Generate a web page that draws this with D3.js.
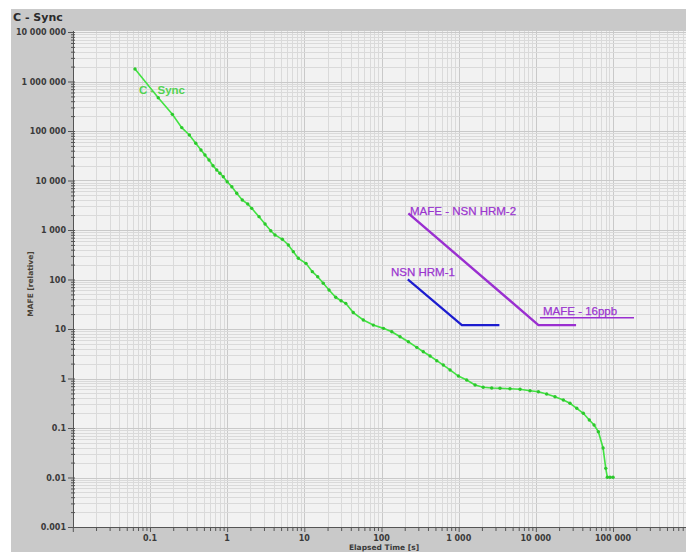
<!DOCTYPE html>
<html>
<head>
<meta charset="utf-8">
<script src="https://cdn.jsdelivr.net/npm/d3@7"></script>
<style>
  body { margin: 0; background: #fff; }
  svg { display: block; }
</style>
</head>
<body>
<script>
// C - Sync measured MAFE, elapsed time in seconds
const syncTime = [0.064, 0.128, 0.195, 0.258, 0.324, 0.392, 0.458, 0.516, 0.582, 0.656,
  0.733, 0.807, 0.891, 1.0, 1.15, 1.33, 1.57, 1.85, 2.08, 2.59,
  3.10, 3.67, 4.17, 5.19, 6.21, 7.20, 8.36, 10.5, 12.7, 14.9,
  17.6, 20.9, 25.5, 29.9, 34.4, 43.1, 58.1, 78.3, 106, 136,
  174, 223, 286, 348, 426, 520, 632, 773, 991, 1270,
  1630, 2080, 2680, 3430, 4620, 6240, 8400, 10800, 13800, 17700,
  22700, 27700, 33900, 41200, 49300, 56800, 64600, 74300, 80500, 84400,
  91400, 100000];
const syncMafe = [1790000, 471000, 217000, 117000, 83000, 56500, 41300, 32700, 25900, 19900,
  16300, 14000, 11900, 9460, 7500, 5510, 4040, 3350, 2740, 1860,
  1320, 968, 793, 649, 498, 365, 268, 212, 144, 114,
  83.8, 61.4, 43.7, 37.3, 33.0, 21.5, 15.2, 12.0, 10.3, 8.81,
  6.98, 5.53, 4.26, 3.47, 2.85, 2.29, 1.87, 1.49, 1.12, 0.933,
  0.740, 0.664, 0.643, 0.634, 0.622, 0.605, 0.567, 0.541, 0.486, 0.429,
  0.368, 0.316, 0.250, 0.198, 0.145, 0.115, 0.0842, 0.0394, 0.0153, 0.0101,
  0.0101, 0.0101];

// masks
const hrm1Time = [219, 1100, 3370];
const hrm1Mafe = [101, 12, 12];
const hrm2Time = [223, 10800, 33200];
const hrm2Mafe = [2170, 12, 12];
const ppbTime = [11300, 187000];
const ppbMafe = [16.9, 16.9];

const xTickLabels = [0.1, 1, 10, 100, 1000, 10000, 100000];
const yTickLabels = [0.001, 0.01, 0.1, 1, 10, 100, 1000, 10000, 100000, 1000000, 10000000];

const W = 686, H = 552;
const plot = { left: 73, top: 31, right: 686, bottom: 527 };

const x = d3.scaleLog().domain([0.01, 1e6]).range([72.8, 690.2]);
const y = d3.scaleLog().domain([0.001, 1e7]).range([527, 32]);

const fmt = v => v >= 1 ? d3.format(",")(v).replace(/,/g, " ") : String(v);
const isMajor = v => Math.abs(Math.log10(v) - Math.round(Math.log10(v))) < 1e-9;

const svg = d3.select("body").append("svg")
  .attr("width", W)
  .attr("height", H);

// grey frame
svg.append("rect")
  .attr("x", 11).attr("y", 9)
  .attr("width", W - 11).attr("height", H - 9)
  .attr("fill", "#c9c9c9");

svg.append("text")
  .attr("x", 13).attr("y", 21)
  .attr("font-family", "'DejaVu Sans', sans-serif")
  .attr("font-weight", "bold")
  .attr("font-size", "11px")
  .attr("fill", "#2b2b2b")
  .text("C - Sync");

svg.append("clipPath").attr("id", "clip")
  .append("rect")
  .attr("x", plot.left).attr("y", plot.top)
  .attr("width", plot.right - plot.left).attr("height", plot.bottom - plot.top);

svg.append("rect")
  .attr("x", plot.left).attr("y", plot.top)
  .attr("width", plot.right - plot.left).attr("height", plot.bottom - plot.top)
  .attr("fill", "#f2f2f2");

const grid = svg.append("g").attr("clip-path", "url(#clip)");
const xGrid = x.ticks(20), yGrid = y.ticks(20);

grid.selectAll(".vg")
  .data(xGrid)
  .join("line")
  .attr("class", "vg")
  .attr("x1", d => Math.round(x(d)) + 0.5).attr("x2", d => Math.round(x(d)) + 0.5)
  .attr("y1", plot.top).attr("y2", plot.bottom)
  .attr("stroke", d => isMajor(d) ? "#c9c9c9" : "#dadada")
  .attr("stroke-width", 1);

grid.selectAll(".hg")
  .data(yGrid)
  .join("line")
  .attr("class", "hg")
  .attr("y1", d => Math.round(y(d)) + 0.5).attr("y2", d => Math.round(y(d)) + 0.5)
  .attr("x1", plot.left).attr("x2", plot.right)
  .attr("stroke", d => isMajor(d) ? "#c9c9c9" : "#dadada")
  .attr("stroke-width", 1);

// axes
const tickFont = "'DejaVu Sans', sans-serif";

const yAxis = svg.append("g")
  .attr("transform", "translate(" + plot.left + ",0)")
  .call(d3.axisLeft(y).tickValues(yGrid).tickSize(0).tickFormat(""));
yAxis.select(".domain").attr("stroke", "#555").attr("d", "M0.5," + plot.top + "V" + plot.bottom);
yAxis.selectAll(".tick line")
  .attr("x1", d => isMajor(d) ? -5 : -2)
  .attr("x2", 2)
  .attr("stroke", "#555");

svg.append("g").selectAll("text")
  .data(yTickLabels)
  .join("text")
  .attr("x", 66)
  .attr("y", d => y(d) + 3)
  .attr("text-anchor", "end")
  .attr("font-family", tickFont)
  .attr("font-weight", "bold")
  .attr("font-size", "8px")
  .attr("fill", "#3a3a3a")
  .text(fmt);

const xAxis = svg.append("g")
  .attr("transform", "translate(0," + plot.bottom + ")")
  .call(d3.axisBottom(x).tickValues(xGrid).tickSize(0).tickFormat(""));
xAxis.select(".domain").attr("stroke", "#555").attr("d", "M" + plot.left + ",0.5H" + plot.right);
xAxis.selectAll(".tick line")
  .attr("y1", 0)
  .attr("y2", d => isMajor(d) ? 5 : 4)
  .attr("stroke", "#555");

svg.append("g").selectAll("text")
  .data(xTickLabels)
  .join("text")
  .attr("x", d => x(d))
  .attr("y", 541)
  .attr("text-anchor", "middle")
  .attr("font-family", tickFont)
  .attr("font-weight", "bold")
  .attr("font-size", "8px")
  .attr("fill", "#3a3a3a")
  .text(fmt);

svg.append("text")
  .attr("x", 384).attr("y", 550)
  .attr("text-anchor", "middle")
  .attr("font-family", tickFont)
  .attr("font-weight", "bold")
  .attr("font-size", "7.5px")
  .attr("fill", "#3a3a3a")
  .text("Elapsed Time [s]");

svg.append("text")
  .attr("transform", "translate(33,284) rotate(-90)")
  .attr("text-anchor", "middle")
  .attr("font-family", tickFont)
  .attr("font-weight", "bold")
  .attr("font-size", "7.5px")
  .attr("fill", "#4a4236")
  .text("MAFE [relative]");

// series
const marks = svg.append("g").attr("clip-path", "url(#clip)");
const line = d3.line().x(d => x(d[0])).y(d => y(d[1]));

const sync = d3.zip(syncTime, syncMafe);
marks.append("path")
  .datum(sync)
  .attr("d", line)
  .attr("fill", "none")
  .attr("stroke", "#42e242")
  .attr("stroke-width", 1.6);
marks.selectAll(".dot")
  .data(sync)
  .join("circle")
  .attr("class", "dot")
  .attr("cx", d => x(d[0]))
  .attr("cy", d => y(d[1]))
  .attr("r", 1.7)
  .attr("fill", "#2cc82c");

marks.append("path")
  .datum(d3.zip(hrm1Time, hrm1Mafe))
  .attr("d", line)
  .attr("fill", "none")
  .attr("stroke", "#1c1ccf")
  .attr("stroke-width", 2.2);

marks.append("path")
  .datum(d3.zip(hrm2Time, hrm2Mafe))
  .attr("d", line)
  .attr("fill", "none")
  .attr("stroke", "#9a2fd0")
  .attr("stroke-width", 2.4);

marks.append("path")
  .datum(d3.zip(ppbTime, ppbMafe))
  .attr("d", line)
  .attr("fill", "none")
  .attr("stroke", "#9a2fd0")
  .attr("stroke-width", 1.4);

// labels
const labelFont = "'Liberation Sans', Arial, sans-serif";
svg.append("text")
  .attr("x", 139).attr("y", 94)
  .attr("font-family", labelFont)
  .attr("font-weight", "bold")
  .attr("font-size", "11.5px")
  .attr("fill", "#52d352")
  .text("C - Sync");

const maskLabels = [
  { t: "NSN HRM-1", x: 391, y: 276 },
  { t: "MAFE - NSN HRM-2", x: 410, y: 215 },
  { t: "MAFE - 16ppb", x: 543, y: 315 }
];
svg.append("g").selectAll("text")
  .data(maskLabels)
  .join("text")
  .attr("x", d => d.x).attr("y", d => d.y)
  .attr("font-family", labelFont)
  .attr("font-size", "11.5px")
  .attr("fill", "#9b35cf")
  .attr("stroke", "#9b35cf")
  .attr("stroke-width", 0.25)
  .text(d => d.t);
</script>
</body>
</html>
